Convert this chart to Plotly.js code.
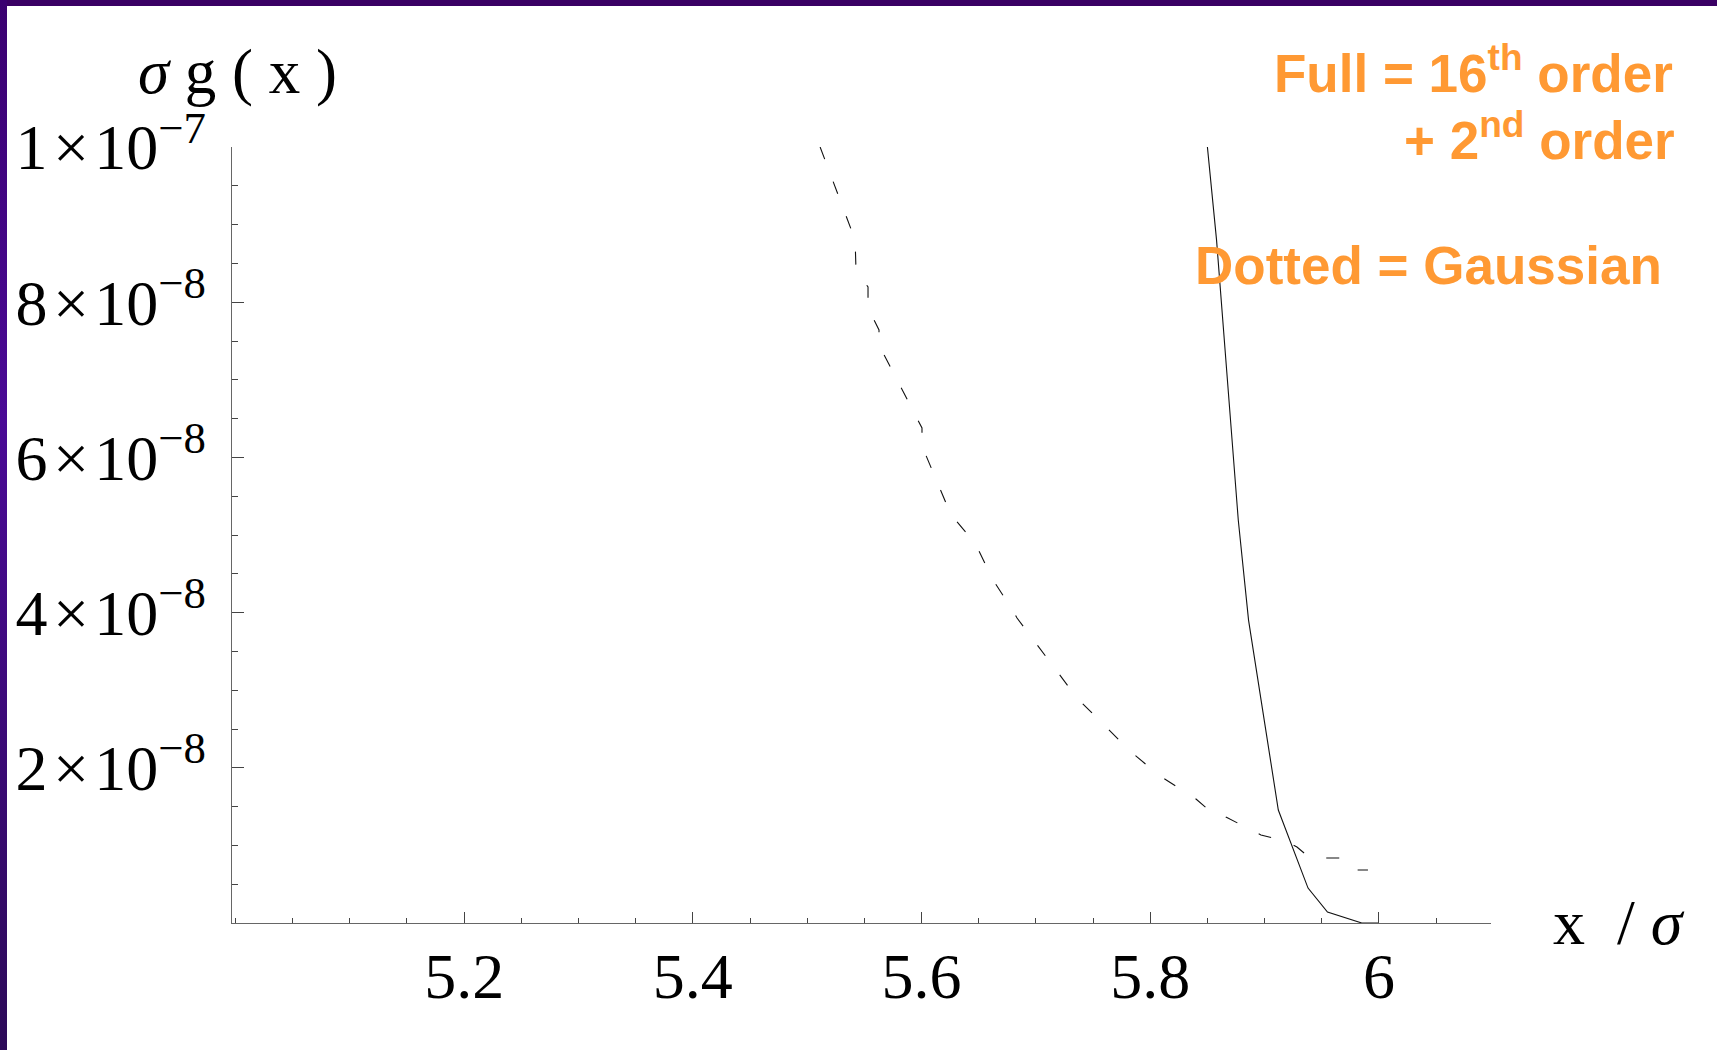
<!DOCTYPE html>
<html>
<head>
<meta charset="utf-8">
<script src="https://cdn.plot.ly/plotly-3.0.1.min.js"></script>
<style>
  html, body { margin: 0; padding: 0; background: #ffffff; }
  #wrap { position: relative; width: 1717px; height: 1050px; overflow: hidden; }
  #chart { position: absolute; left: 0; top: 0; width: 1717px; height: 1050px; }
  #topbar { position: absolute; left: 0; top: 0; width: 1717px; height: 6px; background: #3a0064; z-index: 5; }
  #leftbar { position: absolute; left: 0; top: 0; width: 7px; height: 1050px; background: linear-gradient(#3a0070, #4a0a96 40%, #2c0a58); z-index: 5; }
</style>
</head>
<body>
<div id="wrap">
  <div id="chart"></div>
  <div id="topbar"></div>
  <div id="leftbar"></div>
</div>
<script>
// ---- data ----
// Full = 16th order + 2nd order (solid)
const fullX = [5.850, 5.858, 5.877, 5.886, 5.912, 5.938, 5.955, 5.985, 6.000];
const fullY = [1.000e-7, 0.880e-7, 0.519e-7, 0.390e-7, 0.1456e-7, 0.045e-7, 0.014e-7, 0.0, 0.0];

// Gaussian (dashed)
const gaussX = [5.5113, 5.5419, 5.5427, 5.5532, 5.5532, 5.5628, 5.5628, 5.5908, 5.6004, 5.6004,
                5.6214, 5.6258, 5.6267, 5.6468, 5.6625, 5.6791, 5.6835, 5.7360, 5.7622, 5.7832,
                5.8085, 5.8400, 5.8522, 5.8601, 5.8662, 5.8968, 5.9178, 5.9283, 5.9397, 5.9659,
                5.9747, 5.9904];
const gaussY = [10.000, 8.802, 8.415, 8.196, 7.925, 7.642, 7.448, 6.637, 6.379, 6.147,
                5.412, 5.348, 5.245, 4.897, 4.420, 4.046, 3.930, 2.899, 2.513, 2.204,
                1.894, 1.598, 1.443, 1.443, 1.366, 1.134, 1.057, 0.979, 0.838, 0.838,
                0.683, 0.683].map(v => v * 1e-8);

const xTickVals = [5.2, 5.4, 5.6, 5.8, 6.0];
const xTickText = ["5.2", "5.4", "5.6", "5.8", "6"];
const yTickVals = [2e-8, 4e-8, 6e-8, 8e-8, 1e-7];
const yTickText = ["2\u200a×\u200a10<sup>−8</sup>", "4\u200a×\u200a10<sup>−8</sup>", "6\u200a×\u200a10<sup>−8</sup>",
                   "8\u200a×\u200a10<sup>−8</sup>", "1\u200a×\u200a10<sup>−7</sup>"];

// ---- layout helpers (pixel -> paper) ----
const L = 232, R = 1491, T = 147, B = 923;
const px = v => (v - L) / (R - L);
const py = v => (B - v) / (B - T);

const serif = "Liberation Serif, Times New Roman, serif";
const sans = "Liberation Sans, Arial, sans-serif";
const orange = "#FF9933";

const traces = [
  { x: gaussX, y: gaussY, type: "scatter", mode: "lines",
    line: { color: "#111", width: 1.1, dash: "13px,24px" }, hoverinfo: "skip", cliponaxis: true },
  { x: fullX, y: fullY, type: "scatter", mode: "lines",
    line: { color: "#111", width: 1.1 }, hoverinfo: "skip", cliponaxis: true }
];

const layout = {
  width: 1717, height: 1050,
  margin: { l: L, r: 1717 - R, t: T, b: 1050 - B, pad: 0 },
  paper_bgcolor: "#ffffff", plot_bgcolor: "#ffffff",
  showlegend: false,
  xaxis: {
    range: [4.997, 6.098], showgrid: false, zeroline: false,
    showline: true, linecolor: "#666", linewidth: 1.2,
    tickmode: "array", tickvals: xTickVals, ticktext: xTickText,
    ticks: "inside", ticklen: 11, tickwidth: 1, tickcolor: "#444",
    ticklabelstandoff: -3,
    tickfont: { family: serif, size: 64, color: "#000" },
    minor: { tickmode: "linear", tick0: 5.0, dtick: 0.05, ticks: "inside", ticklen: 5, tickwidth: 1, tickcolor: "#444", showgrid: false }
  },
  yaxis: {
    range: [0, 1e-7], showgrid: false, zeroline: false,
    showline: true, linecolor: "#666", linewidth: 1.2,
    tickmode: "array", tickvals: yTickVals, ticktext: yTickText,
    ticks: "inside", ticklen: 12, tickwidth: 1, tickcolor: "#444",
    ticklabelstandoff: 12,
    tickfont: { family: serif, size: 64, color: "#000" },
    minor: { tickmode: "linear", tick0: 0, dtick: 5e-9, ticks: "inside", ticklen: 6, tickwidth: 1, tickcolor: "#444", showgrid: false }
  },
  annotations: [
    { xref: "paper", yref: "paper", x: px(136), y: py(35), xanchor: "left", yanchor: "top",
      text: "<i>σ</i> g ( x )", showarrow: false, font: { family: serif, size: 63, color: "#000" } },
    { xref: "paper", yref: "paper", x: px(1551), y: py(885), xanchor: "left", yanchor: "top",
      text: "x  / <i>σ</i>", showarrow: false, font: { family: serif, size: 64, color: "#000" } },
    { xref: "paper", yref: "paper", x: px(1675), y: py(34), xanchor: "right", yanchor: "top",
      text: "<b>Full = 16<sup>th</sup> order</b>", showarrow: false, font: { family: sans, size: 53, color: orange } },
    { xref: "paper", yref: "paper", x: px(1677), y: py(101), xanchor: "right", yanchor: "top",
      text: "<b>+ 2<sup>nd</sup> order</b>", showarrow: false, font: { family: sans, size: 53, color: orange } },
    { xref: "paper", yref: "paper", x: px(1664), y: py(234), xanchor: "right", yanchor: "top",
      text: "<b>Dotted = Gaussian</b>", showarrow: false, font: { family: sans, size: 53, color: orange } }
  ]
};

Plotly.newPlot("chart", traces, layout, { staticPlot: true, displayModeBar: false });
</script>
</body>
</html>
